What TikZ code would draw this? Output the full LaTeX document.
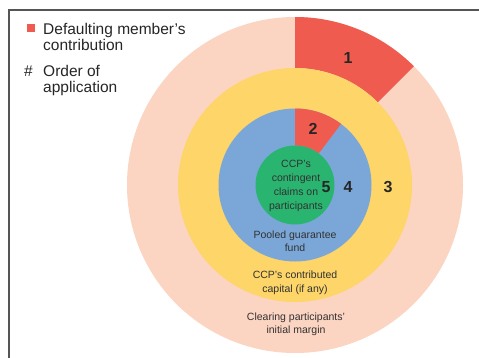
\documentclass[tikz,border=0pt]{standalone}
\usepackage{fontspec}
\setmainfont{Liberation Sans}
\definecolor{cpink}{RGB}{252,212,194}
\definecolor{cred}{RGB}{240,91,79}
\definecolor{cyellow}{RGB}{253,213,105}
\definecolor{cblue}{RGB}{123,167,216}
\definecolor{cgreen}{RGB}{41,181,112}
\definecolor{ctext}{RGB}{50,50,50}
\definecolor{cframe}{RGB}{85,85,85}
\begin{document}
\begin{tikzpicture}[x=1pt,y=1pt,
  lbl/.style={inner sep=0pt,anchor=base,text=ctext,font=\fontsize{10.5}{13}\selectfont},
  leg/.style={inner sep=0pt,anchor=base west,text=black!85,font=\fontsize{15.5}{17}\selectfont},
  num/.style={inner sep=0pt,anchor=base,text=black!85,font=\fontsize{16}{18}\selectfont\bfseries}]
\useasboundingbox (0,0) rectangle (479,357);
\coordinate (C) at (295,172);
% rings
\fill[cpink] (C) circle[radius=168pt];
\fill[cred,shift={(C)}] (45:117pt) -- (45:168pt) arc[start angle=45,end angle=90,radius=168pt]
  -- (90:117pt) arc[start angle=90,end angle=45,radius=117pt] -- cycle;
\fill[cyellow] (C) circle[radius=117pt];
\fill[cblue] (C) circle[radius=76.5pt];
\fill[cred,shift={(C)}] (53:39.5pt) -- (53:76.5pt) arc[start angle=53,end angle=90,radius=76.5pt]
  -- (90:39.5pt) arc[start angle=90,end angle=53,radius=39.5pt] -- cycle;
\fill[cgreen] (C) circle[radius=39.5pt];
% frame
\draw[cframe,line width=1.2pt] (9,-5) -- (9,347) -- (485,347);
% legend
\fill[cred] (27,325) rectangle (35,333);
\node[leg] (l1) at (43,322) {Defaulting member’s};
\node[leg] (l2) at (43,306) {contribution};
\node[leg] (lh) at (24,281) {\#};
\node[leg] (l3) at (43,281) {Order of};
\node[leg] (l4) at (43,265) {application};
% numbers
\node[num] (n1) at (348,294) {1};
\node[num] (n2) at (313,223) {2};
\node[num] (n3) at (388,165) {3};
\node[num] (n4) at (348,165) {4};
\node[num] (n5) at (326,165) {5};
% labels
\node[lbl] (g1) at (296,189.5) {CCP’s};
\node[lbl] (g2) at (296,175.5) {contingent};
\node[lbl] (g3) at (296,161.5) {claims on};
\node[lbl] (g4) at (296,147.5) {participants};
\node[lbl] (b1) at (295,118.5) {Pooled guarantee};
\node[lbl] (b2) at (295,105.5) {fund};
\node[lbl] (y1) at (295,78.5) {CCP’s contributed};
\node[lbl] (y2) at (295,64.5) {capital (if any)};
\node[lbl] (p1) at (296,36.5) {Clearing participants’};
\node[lbl] (p2) at (296,23.5) {initial margin};
\end{tikzpicture}
\end{document}
